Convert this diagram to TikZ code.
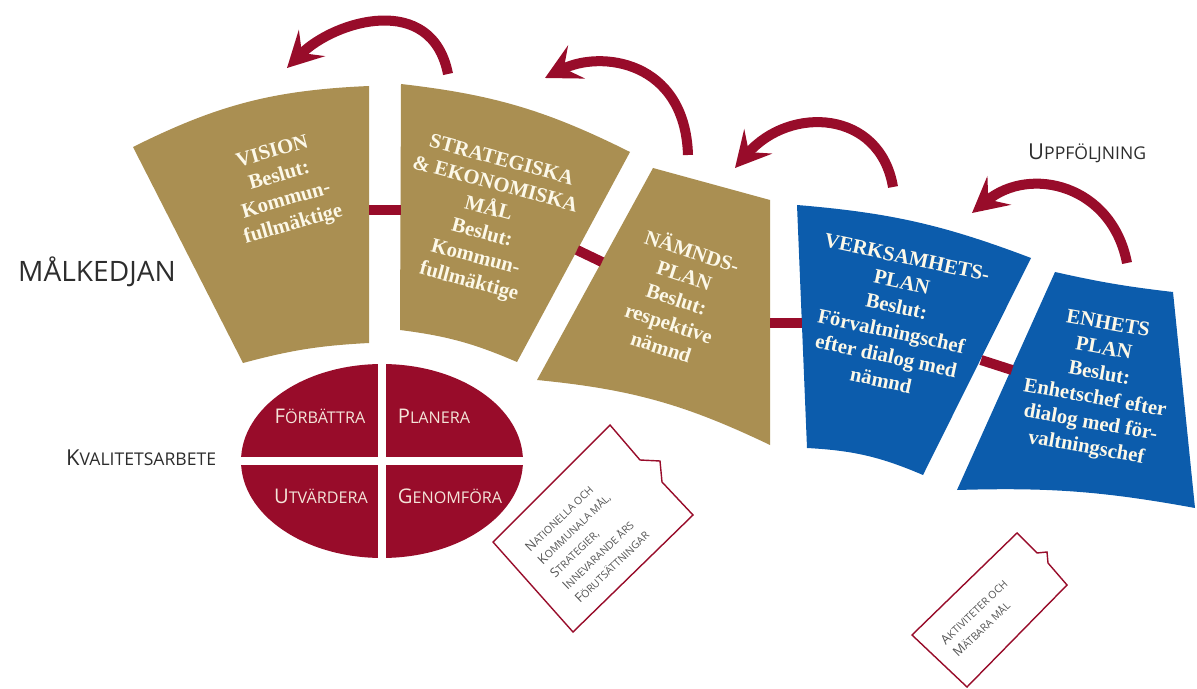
\documentclass[tikz,border=0pt]{standalone}
\usepackage{fontspec}
\usepackage{graphicx}
\setmainfont{Liberation Serif}
\newfontfamily\labelfont{Open Sans}
\usetikzlibrary{arrows.meta, shapes.geometric}

\definecolor{kedjegold}{RGB}{170,143,82}
\definecolor{kedjeblue}{RGB}{12,92,172}
\definecolor{kedjered}{RGB}{152,12,42}
\definecolor{cream}{RGB}{252,248,232}
\definecolor{inkgray}{RGB}{45,45,45}
\definecolor{taggray}{RGB}{85,85,85}

\newcommand{\kap}[1]{\scalebox{0.8}{#1}}

\begin{document}
\begin{tikzpicture}[
    x=0.02cm, y=-0.02cm,
    goldpanel/.style={fill=kedjegold},
    bluepanel/.style={fill=kedjeblue},
    paneltext/.style={text=cream, align=center, font=\fontsize{11.8}{14.3}\selectfont\bfseries},
    link/.style={draw=kedjered, line width=5.7pt},
    loopback/.style={draw=kedjered, line width=5.7pt, -{Stealth[length=20pt, width=21pt, inset=8pt]}},
    heading/.style={text=inkgray, font=\labelfont\fontsize{16}{18}\selectfont},
    caption/.style={text=inkgray, font=\labelfont\fontsize{12.5}{14}\selectfont},
    pdca/.style={text=cream!92!kedjered, font=\labelfont\fontsize{11.5}{13}\selectfont},
    tagbox/.style={draw=kedjered, line width=0.8pt, fill=white},
    tagtext/.style={text=taggray, align=left, rotate=44, font=\labelfont\fontsize{7.4}{10.2}\selectfont}
  ]
  \useasboundingbox (0,0) rectangle (1197,689);

  \fill[goldpanel] (133,147) to[bend left=12] (369,86) -- (369,343) to[bend right=6] (243,363) -- cycle;
  \fill[goldpanel] (401,84) to[bend left=10] (630,152) -- (517,362) to[bend right=8] (400,330) -- cycle;
  \fill[goldpanel] (653,168) -- (770,200) -- (770,445) to[bend right=10] (537,380) -- cycle;
  \fill[bluepanel] (797,205) to[bend left=8] (1031,258) -- (923,475) to[bend right=10] (807,448) -- cycle;
  \fill[bluepanel] (1055,272) to[bend right=3] (1173,292) -- (1195,508) to[bend right=6] (957,490) -- cycle;

  \node[paneltext, rotate=16] (vision) at (283,189) {VISION\\Beslut:\\Kommun-\\fullmäktige};
  \node[paneltext, rotate=-15] (strategi) at (485,222) {STRATEGISKA\\\& EKONOMISKA\\MÅL\\Beslut:\\Kommun-\\fullmäktige};
  \node[paneltext, rotate=-18] (namnd) at (677,298) {NÄMNDS-\\PLAN\\Beslut:\\respektive\\nämnd};
  \node[paneltext, rotate=-12] (verksamhet) at (894,319) {VERKSAMHETS-\\PLAN\\Beslut:\\Förvaltningschef\\efter dialog med\\nämnd};
  \node[paneltext, rotate=-10] (enhet) at (1097,387) {ENHETS\\PLAN\\Beslut:\\Enhetschef efter\\dialog med för-\\valtningschef};

  \coordinate (vis-r) at (369,210);
  \coordinate (str-l) at (401,210);
  \coordinate (str-r) at (577,250);
  \coordinate (nam-l) at (602,262);
  \coordinate (nam-r) at (770,323);
  \coordinate (ver-l) at (802,323);
  \coordinate (ver-r) at (981,360);
  \coordinate (enh-l) at (1012,370);
  \foreach \a/\b in {vis-r/str-l, str-r/nam-l, nam-r/ver-l, ver-r/enh-l}
    \draw[link] (\a) -- (\b);

  \draw[loopback] (448,74) .. controls (432,-8) and (335,20) .. (287,68);
  \draw[loopback] (688,155) .. controls (685,60) and (600,50) .. (545,78);
  \draw[loopback] (893,187) .. controls (880,110) and (790,105) .. (735,168);
  \draw[loopback] (1127,263) .. controls (1112,185) and (1030,165) .. (972,213);

  \node[ellipse, fill=kedjered, minimum width=5.64cm, minimum height=3.88cm, inner sep=0pt] (pdcaring) at (382,461) {};
  \draw[white, line width=4.5pt] (pdcaring.north) -- (pdcaring.south);
  \draw[white, line width=4.5pt] (pdcaring.west) -- (pdcaring.east);
  \node[pdca, anchor=base] (forbattra) at (320,423) {F\kap{ÖRBÄTTRA}};
  \node[pdca, anchor=base] (planera) at (434,423) {P\kap{LANERA}};
  \node[pdca, anchor=base] (utvardera) at (321,503) {U\kap{TVÄRDERA}};
  \node[pdca, anchor=base] (genomfora) at (450,503) {G\kap{ENOMFÖRA}};

  \node[heading, anchor=base west] (malkedjan) at (12,282) {MÅLKEDJAN};
  \node[caption, anchor=base west] (kvalitet) at (60,465) {K\kap{VALITETSARBETE}};
  \node[caption, anchor=base west] (uppfoljning) at (1022,160) {U\kap{PPFÖLJNING}};

  \draw[tagbox] (610,425) -- (640,460) -- (660,461) -- (662,482) -- (693,515) -- (573,632) -- (493,542) -- cycle;
  \node[tagtext] (forutsattning) at (587,541) {N\kap{ATIONELLA OCH}\\K\kap{OMMUNALA MÅL,}\\S\kap{TRATEGIER,}\\I\kap{NNEVARANDE ÅRS}\\F\kap{ÖRUTSÄTTNINGAR}};

  \draw[tagbox] (1017,533) -- (1037,553) -- (1047,552) -- (1048,563) -- (1067,585) -- (967,687) -- (912,635) -- cycle;
  \node[tagtext] (aktivitet) at (980,618) {A\kap{KTIVITETER OCH}\\M\kap{ÄTBARA MÅL}};
\end{tikzpicture}
\end{document}
